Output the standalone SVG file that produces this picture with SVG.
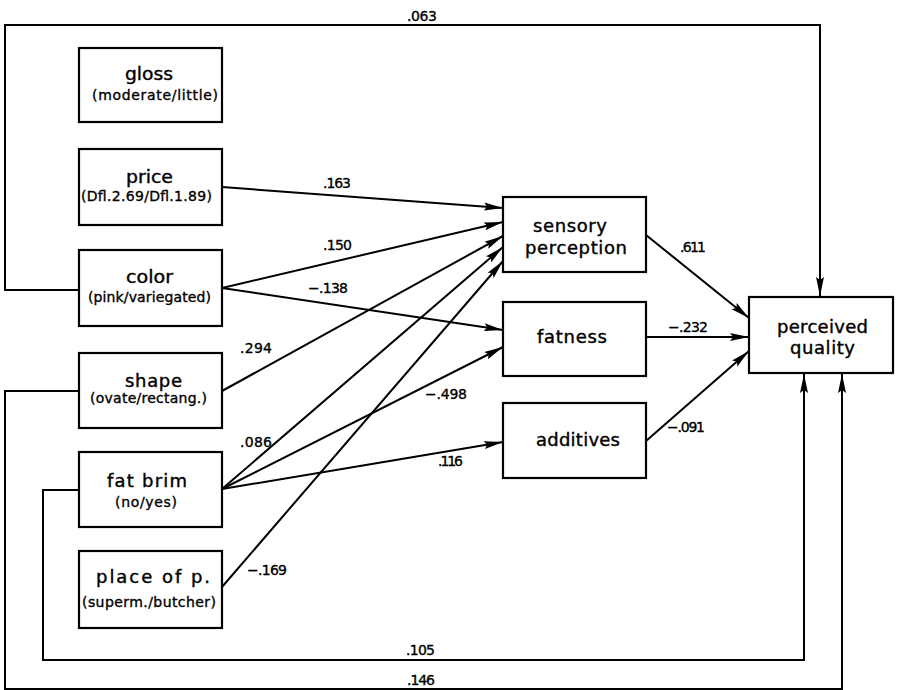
<svg xmlns="http://www.w3.org/2000/svg" width="897" height="690" viewBox="0 0 897 690">
<style>
  .box { fill: #fff; stroke: #000; stroke-width: 2.2; }
  .t { font-family: "DejaVu Sans", "Liberation Sans", sans-serif; font-size: 18px; fill: #000; stroke: #000; stroke-width: 0.4; }
  .s { font-family: "DejaVu Sans", "Liberation Sans", sans-serif; font-size: 14px; fill: #000; stroke: #000; stroke-width: 0.35; }
  .n { font-family: "DejaVu Sans", "Liberation Sans", sans-serif; font-size: 14px; fill: #000; stroke: #000; stroke-width: 0.35; }
  .ca { fill: none; stroke: #000; stroke-width: 2; marker-end: url(#ah); }
</style>
<defs>
  <marker id="ah" markerWidth="20" markerHeight="10" refX="19" refY="5" orient="auto" markerUnits="userSpaceOnUse">
    <path d="M0,1 L19,5 L0,9 L3,5 Z" fill="#000"/>
  </marker>
</defs>
<rect width="897" height="690" fill="#fff"/>

<g id="connectors">
  <path class="ca" d="M79,290 H5 V25 H820 V296"/>
  <path class="ca" d="M79,391 H5 V689 H842 V374"/>
  <path class="ca" d="M79,490 H43 V660 H804 V374"/>
  <path class="ca" d="M222,187 L503,208"/>
  <path class="ca" d="M222,288 L503,222"/>
  <path class="ca" d="M222,391 L503,236"/>
  <path class="ca" d="M222,489 L503,247"/>
  <path class="ca" d="M222,587 L503,261"/>
  <path class="ca" d="M222,288 L503,330"/>
  <path class="ca" d="M222,489 L503,347"/>
  <path class="ca" d="M222,489 L503,442"/>
  <path class="ca" d="M646,235 L749,318"/>
  <path class="ca" d="M646,337 L749,337"/>
  <path class="ca" d="M646,441 L749,351"/>
  <text class="n" x="407" y="21" textLength="30" lengthAdjust="spacing">.063</text>
  <text class="n" x="323" y="188" textLength="28" lengthAdjust="spacing">.163</text>
  <text class="n" x="323" y="250" textLength="29" lengthAdjust="spacing">.150</text>
  <text class="n" x="308" y="293" textLength="40" lengthAdjust="spacing">−.138</text>
  <text class="n" x="240" y="353" textLength="32" lengthAdjust="spacing">.294</text>
  <text class="n" x="240" y="447" textLength="32" lengthAdjust="spacing">.086</text>
  <text class="n" x="425" y="399" textLength="42" lengthAdjust="spacing">−.498</text>
  <text class="n" x="438" y="466" textLength="25" lengthAdjust="spacing">.116</text>
  <text class="n" x="247" y="575" textLength="40" lengthAdjust="spacing">−.169</text>
  <text class="n" x="680" y="252" textLength="26" lengthAdjust="spacing">.611</text>
  <text class="n" x="668" y="332" textLength="40" lengthAdjust="spacing">−.232</text>
  <text class="n" x="667" y="432" textLength="38" lengthAdjust="spacing">−.091</text>
  <text class="n" x="406" y="655" textLength="29" lengthAdjust="spacing">.105</text>
  <text class="n" x="407" y="685" textLength="28" lengthAdjust="spacing">.146</text>
</g>

<g id="gloss">
  <rect class="box" x="79" y="48" width="143" height="74"/>
  <text class="t" x="125" y="80" textLength="48" lengthAdjust="spacingAndGlyphs">gloss</text>
  <text class="s" x="92" y="100" textLength="126" lengthAdjust="spacing">(moderate/little)</text>
</g>
<g id="price">
  <rect class="box" x="79" y="149" width="143" height="76"/>
  <text class="t" x="126" y="183" textLength="47" lengthAdjust="spacingAndGlyphs">price</text>
  <text class="s" x="81" y="201" textLength="131" lengthAdjust="spacing">(Dfl.2.69/Dfl.1.89)</text>
</g>
<g id="color">
  <rect class="box" x="79" y="250" width="143" height="76"/>
  <text class="t" x="126" y="283" textLength="47" lengthAdjust="spacingAndGlyphs">color</text>
  <text class="s" x="88" y="302" textLength="123" lengthAdjust="spacing">(pink/variegated)</text>
</g>
<g id="shape">
  <rect class="box" x="79" y="353" width="143" height="75"/>
  <text class="t" x="125" y="387" textLength="57" lengthAdjust="spacing">shape</text>
  <text class="s" x="90" y="403" textLength="117" lengthAdjust="spacing">(ovate/rectang.)</text>
</g>
<g id="fatbrim">
  <rect class="box" x="79" y="452" width="143" height="75"/>
  <text class="t" x="107" y="487" textLength="80" lengthAdjust="spacing">fat brim</text>
  <text class="s" x="115" y="507" textLength="62" lengthAdjust="spacing">(no/yes)</text>
</g>
<g id="place">
  <rect class="box" x="79" y="551" width="143" height="77"/>
  <text class="t" x="96" y="583" textLength="114" lengthAdjust="spacing">place of p.</text>
  <text class="s" x="82" y="607" textLength="134" lengthAdjust="spacing">(superm./butcher)</text>
</g>
<g id="sensory">
  <rect class="box" x="503" y="197" width="143" height="75"/>
  <text class="t" x="533" y="232" textLength="74" lengthAdjust="spacing">sensory</text>
  <text class="t" x="525" y="254" textLength="102" lengthAdjust="spacing">perception</text>
</g>
<g id="fatness">
  <rect class="box" x="503" y="302" width="143" height="74"/>
  <text class="t" x="537" y="343" textLength="70" lengthAdjust="spacing">fatness</text>
</g>
<g id="additives">
  <rect class="box" x="503" y="403" width="143" height="75"/>
  <text class="t" x="536" y="446" textLength="84" lengthAdjust="spacing">additives</text>
</g>
<g id="quality">
  <rect class="box" x="749" y="297" width="144" height="76"/>
  <text class="t" x="777" y="333" textLength="91" lengthAdjust="spacing">perceived</text>
  <text class="t" x="790" y="354" textLength="65" lengthAdjust="spacing">quality</text>
</g>
</svg>
